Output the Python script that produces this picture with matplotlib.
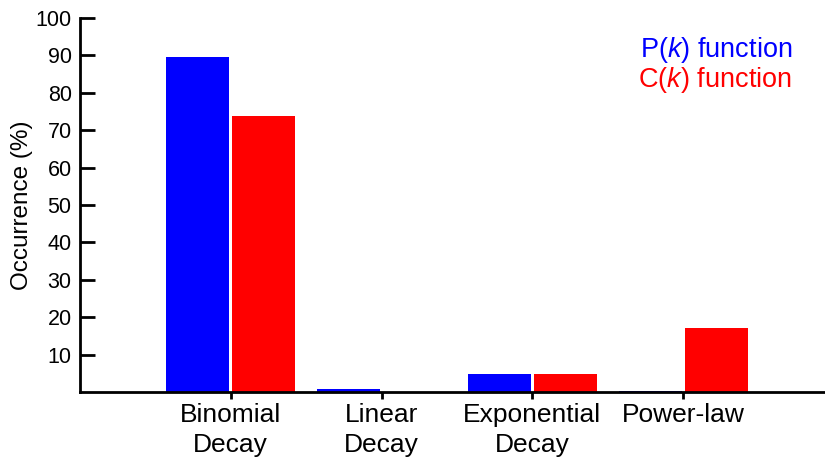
import matplotlib
matplotlib.use("Agg")
import matplotlib.pyplot as plt
import numpy as np

categories = ["Binomial\nDecay", "Linear\nDecay", "Exponential\nDecay", "Power-law"]
p_values = [89.6, 0.9, 4.8, 0.2]
c_values = [73.8, 0.0, 4.8, 17.1]
yticks = [10, 20, 30, 40, 50, 60, 70, 80, 90, 100]

plt.rcParams['font.family'] = ['Liberation Sans', 'DejaVu Sans']
plt.rcParams['mathtext.fontset'] = 'custom'
plt.rcParams['mathtext.rm'] = 'Liberation Sans'
plt.rcParams['mathtext.it'] = 'Liberation Sans:italic'

fig = plt.figure(figsize=(8.25, 4.58), dpi=100)
ax = fig.add_axes([80/825, 66/458, 1 - 80/825, 374/458])

x = np.arange(len(categories))
w = 0.417
off = 0.219
ax.bar(x - off, p_values, width=w, color='#0000FF', edgecolor='none')
ax.bar(x + off, c_values, width=w, color='#FF0000', edgecolor='none')

ax.set_xlim(-1, 3.94)
ax.set_ylim(0, 100)
ax.set_yticks(yticks)
ax.set_xticks(x)
ax.set_xticklabels(categories, fontsize=19, linespacing=1.3)
ax.tick_params(axis='y', direction='in', length=11, width=2, labelsize=15.5, pad=6)
ax.tick_params(axis='x', direction='out', length=5, width=2, pad=3)
for s in ['top', 'right']:
    ax.spines[s].set_visible(False)
for s in ['left', 'bottom']:
    ax.spines[s].set_linewidth(2)
ax.set_ylabel("Occurrence (%)", fontsize=17.5)
ax.yaxis.set_label_coords((33 - 80) / 745, 0.5)

fig.text(792/825, 1 - 50/458, r'P($\mathit{k}$) function', color='#0000FF',
         fontsize=19.5, ha='right', va='center')
fig.text(792/825, 1 - 80/458, r'C($\mathit{k}$) function', color='#FF0000',
         fontsize=19.5, ha='right', va='center')

fig.savefig("out.png", dpi=100)
